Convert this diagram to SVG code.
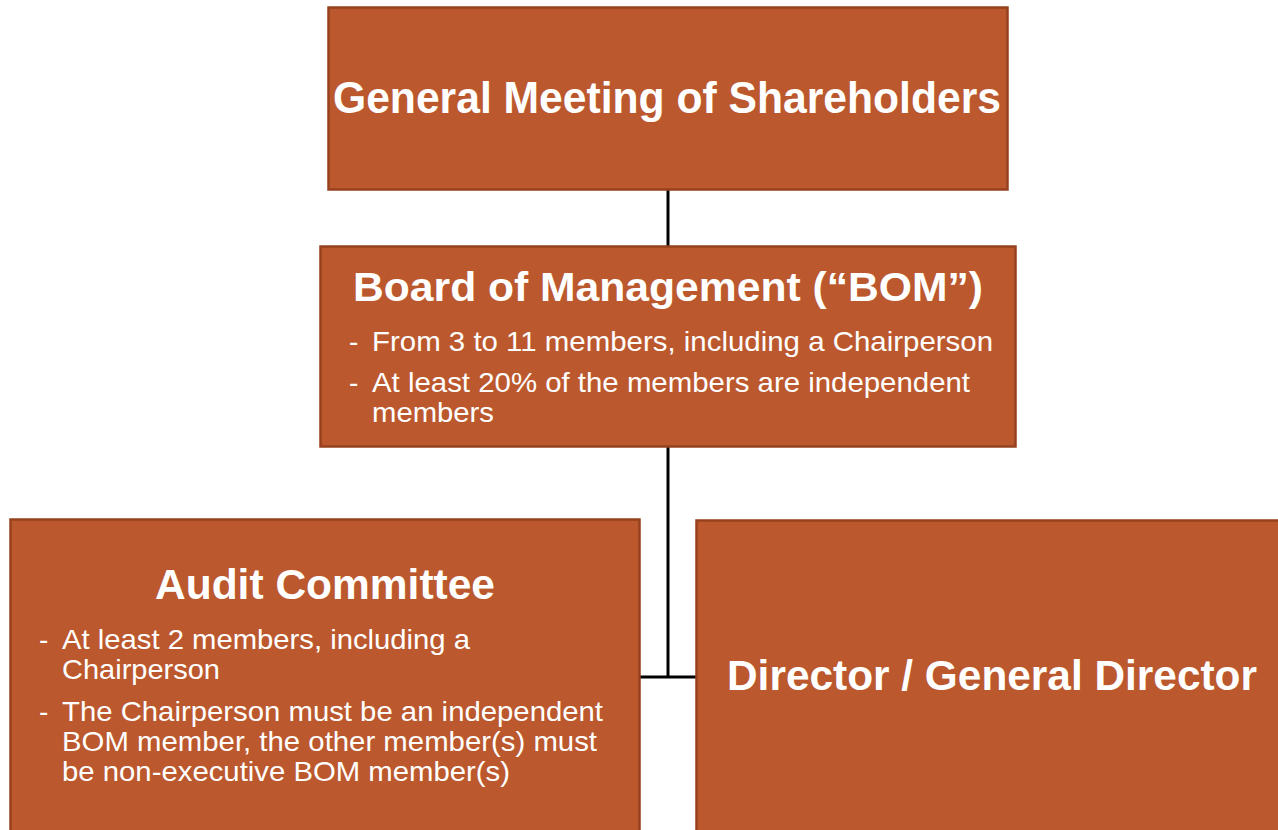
<svg xmlns="http://www.w3.org/2000/svg" width="1278" height="830" viewBox="0 0 1278 830">
<style>
.box{fill:#BC582D;stroke:#96421F;stroke-width:2.5}
.t{font-family:"Liberation Sans",Arial,sans-serif;fill:#FFFFFF}
.h{font-weight:bold}
.b{font-size:28px}
.conn{stroke:#000000;stroke-width:3;fill:none}
</style>
<rect width="1278" height="830" fill="#FFFFFF"/>
<g id="connectors">
<line class="conn" x1="668" y1="190" x2="668" y2="246"/>
<line class="conn" x1="668" y1="447" x2="668" y2="677"/>
<line class="conn" x1="640" y1="677" x2="696" y2="677"/>
</g>
<g id="gms">
<rect class="box" x="328.5" y="7.5" width="679" height="182"/>
<text class="t h" x="333" y="113" font-size="44" textLength="668" lengthAdjust="spacingAndGlyphs">General Meeting of Shareholders</text>
</g>
<g id="bom">
<rect class="box" x="320.5" y="246.5" width="695" height="200"/>
<text class="t h" x="353" y="301" font-size="41" textLength="630" lengthAdjust="spacingAndGlyphs">Board of Management (“BOM”)</text>
<text class="t b" x="349" y="351">-</text>
<text class="t b" x="372" y="351" textLength="621" lengthAdjust="spacingAndGlyphs">From 3 to 11 members, including a Chairperson</text>
<text class="t b" x="349" y="392">-</text>
<text class="t b" x="372" y="392" textLength="598" lengthAdjust="spacingAndGlyphs">At least 20% of the members are independent</text>
<text class="t b" x="372" y="422" textLength="122" lengthAdjust="spacingAndGlyphs">members</text>
</g>
<g id="audit">
<rect class="box" x="10.5" y="519.5" width="629" height="320"/>
<text class="t h" x="155" y="599" font-size="43" textLength="340" lengthAdjust="spacingAndGlyphs">Audit Committee</text>
<text class="t b" x="39" y="649">-</text>
<text class="t b" x="62" y="649" textLength="408" lengthAdjust="spacingAndGlyphs">At least 2 members, including a</text>
<text class="t b" x="62" y="679" textLength="158" lengthAdjust="spacingAndGlyphs">Chairperson</text>
<text class="t b" x="39" y="721">-</text>
<text class="t b" x="62" y="721" textLength="541" lengthAdjust="spacingAndGlyphs">The Chairperson must be an independent</text>
<text class="t b" x="62" y="751" textLength="535" lengthAdjust="spacingAndGlyphs">BOM member, the other member(s) must</text>
<text class="t b" x="62" y="781" textLength="448" lengthAdjust="spacingAndGlyphs">be non-executive BOM member(s)</text>
</g>
<g id="director">
<rect class="box" x="696.5" y="520.5" width="600" height="320"/>
<text class="t h" x="727" y="690" font-size="43" textLength="530" lengthAdjust="spacingAndGlyphs">Director / General Director</text>
</g>
</svg>
